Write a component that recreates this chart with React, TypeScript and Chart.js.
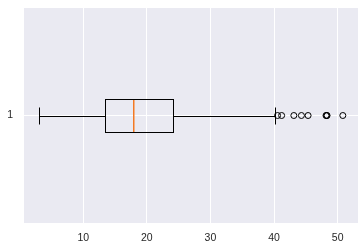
import React, { useEffect, useRef } from "react";
import { Chart, registerables } from "chart.js";

Chart.register(...registerables);

const categories = ["1"];
const whiskerLow = [3.07];
const q1 = [13.35];
const median = [17.8];
const q3 = [24.13];
const whiskerHigh = [40.17];
const outliers = [40.55, 41.19, 43.11, 44.3, 45.35, 48.17, 48.27, 48.33, 50.81];
const xTicks = [10, 20, 30, 40, 50];

const BOX_HALF = 0.075;
const CAP_HALF = 0.0375;

const boxPlugin = {
  id: "boxPlot",
  afterDatasetsDraw(chart: any) {
    const ctx = chart.ctx;
    const xs = chart.scales.x;
    const ys = chart.scales.y;
    ctx.save();
    categories.forEach((_, i) => {
      const pos = i + 1;
      const yc = Math.round(ys.getPixelForValue(pos)) + 0.5;
      const yt = Math.round(ys.getPixelForValue(pos + BOX_HALF)) + 0.5;
      const yb = Math.round(ys.getPixelForValue(pos - BOX_HALF)) + 0.5;
      const ct = Math.round(ys.getPixelForValue(pos + CAP_HALF)) + 0.5;
      const cb = Math.round(ys.getPixelForValue(pos - CAP_HALF)) + 0.5;
      const px = (v: number) => Math.round(xs.getPixelForValue(v)) + 0.5;
      const xl = px(whiskerLow[i]);
      const x1 = px(q1[i]);
      const xm = Math.round(xs.getPixelForValue(median[i]));
      const x3 = px(q3[i]);
      const xh = px(whiskerHigh[i]);
      ctx.lineWidth = 1;
      ctx.strokeStyle = "#000000";
      ctx.beginPath();
      ctx.moveTo(xl, yc);
      ctx.lineTo(x1, yc);
      ctx.moveTo(x3, yc);
      ctx.lineTo(xh, yc);
      ctx.moveTo(xl, ct);
      ctx.lineTo(xl, cb);
      ctx.moveTo(xh, ct);
      ctx.lineTo(xh, cb);
      ctx.stroke();
      ctx.strokeRect(x1, yt, x3 - x1, yb - yt);
      ctx.fillStyle = "#f37a24";
      ctx.fillRect(xm, yt + 0.5, 1.5, yb - yt - 1);
    });
    ctx.restore();
  },
};

const bgPlugin = {
  id: "plotBg",
  beforeDraw(chart: any) {
    const { ctx, chartArea } = chart;
    ctx.save();
    ctx.fillStyle = "#eaeaf2";
    ctx.fillRect(chartArea.left, chartArea.top, chartArea.right - chartArea.left, chartArea.bottom - chartArea.top);
    ctx.restore();
  },
};

export default function App() {
  const ref = useRef<HTMLCanvasElement>(null);
  useEffect(() => {
    const all = [...whiskerLow, ...outliers, ...whiskerHigh];
    const lo = Math.min(...all);
    const hi = Math.max(...all);
    const m = (hi - lo) * 0.05;
    const font = { family: "'Liberation Sans', Arial, sans-serif", size: 10.5 };
    const chart = new Chart(ref.current!, {
      type: "scatter",
      data: {
        datasets: [
          {
            data: outliers.map((v) => ({ x: v, y: 1 })),
            pointStyle: "circle",
            pointRadius: 3,
            pointBackgroundColor: "rgba(0,0,0,0)",
            pointBorderColor: "#000000",
            pointBorderWidth: 1,
          },
        ],
      },
      options: {
        responsive: false,
        animation: false,
        layout: { padding: { top: 8, right: 6, left: 0, bottom: 0 } },
        plugins: { legend: { display: false }, tooltip: { enabled: false } },
        scales: {
          x: {
            type: "linear",
            min: lo - m,
            max: hi + m,
            afterBuildTicks: (axis: any) => {
              axis.ticks = xTicks.map((v) => ({ value: v }));
            },
            afterFit: (axis: any) => {
              axis.height = 28;
              axis.paddingLeft = 0;
              axis.paddingRight = 0;
            },
            grid: { color: "#ffffff", lineWidth: 1, drawTicks: false },
            border: { display: false },
            ticks: { font, color: "#262626", padding: 9, maxRotation: 0 },
          },
          y: {
            type: "linear",
            min: 0.5,
            max: 1.5,
            afterBuildTicks: (axis: any) => {
              axis.ticks = [{ value: 1 }];
            },
            afterFit: (axis: any) => {
              axis.width = 24;
              axis.paddingTop = 0;
              axis.paddingBottom = 0;
            },
            grid: { color: "#ffffff", lineWidth: 1, drawTicks: false },
            border: { display: false },
            ticks: {
              font,
              color: "#262626",
              padding: 11,
              callback: (v: any) => (v === 1 ? categories[0] : ""),
            },
          },
        },
      },
      plugins: [bgPlugin, boxPlugin],
    } as any);
    return () => chart.destroy();
  }, []);
  return (
    <div style={{ position: "fixed", left: 0, top: 0, width: 364, height: 251, background: "#fff" }}>
      <canvas ref={ref} width={364} height={251} style={{ display: "block" }} />
    </div>
  );
}
